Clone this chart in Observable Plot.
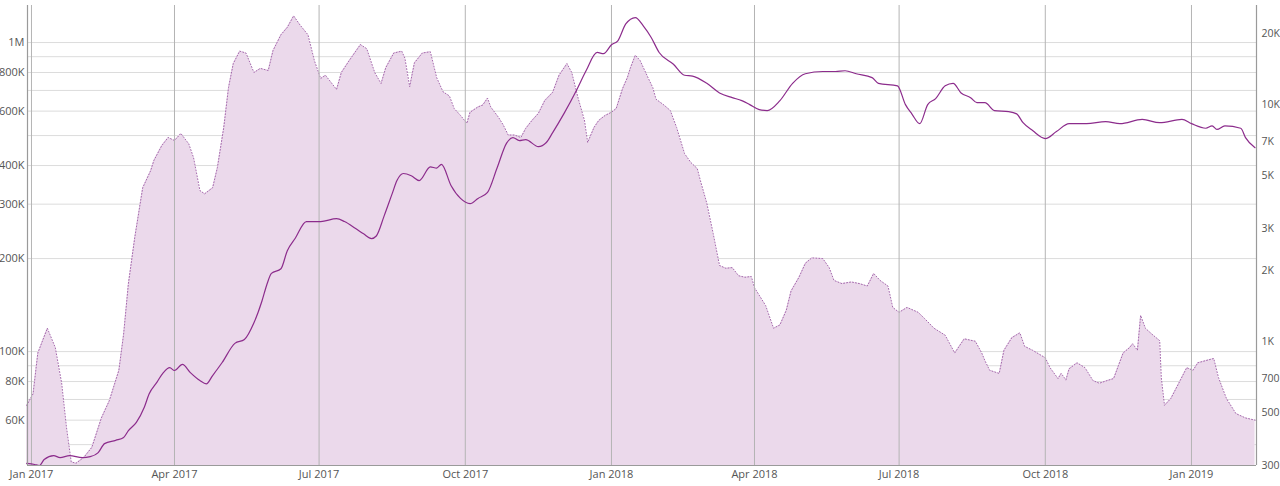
<!DOCTYPE html>
<html>
<head>
<meta charset="utf-8">
<script src="https://cdn.jsdelivr.net/npm/d3@7"></script>
<script src="https://cdn.jsdelivr.net/npm/@observablehq/plot@0.6"></script>
<style>
  html, body { margin: 0; padding: 0; background: #fff; }
</style>
</head>
<body>
<div id="chart"></div>
<script>
// ---- Area series (left axis) ----
const areaDates = ["2016-12-29","2017-01-02","2017-01-05","2017-01-11","2017-01-16","2017-01-20","2017-01-23","2017-01-26","2017-01-29","2017-02-03","2017-02-08","2017-02-14","2017-02-19","2017-02-25","2017-02-28","2017-03-03","2017-03-07","2017-03-12","2017-03-17","2017-03-19","2017-03-24","2017-03-28","2017-04-01","2017-04-05","2017-04-10","2017-04-13","2017-04-17","2017-04-20","2017-04-25","2017-04-28","2017-05-02","2017-05-05","2017-05-08","2017-05-12","2017-05-16","2017-05-21","2017-05-25","2017-05-30","2017-06-02","2017-06-07","2017-06-11","2017-06-15","2017-06-19","2017-06-24","2017-06-28","2017-07-02","2017-07-05","2017-07-12","2017-07-15","2017-07-20","2017-07-27","2017-07-31","2017-08-05","2017-08-09","2017-08-12","2017-08-17","2017-08-22","2017-08-24","2017-08-27","2017-08-30","2017-09-04","2017-09-09","2017-09-13","2017-09-17","2017-09-21","2017-09-24","2017-09-28","2017-10-02","2017-10-04","2017-10-09","2017-10-12","2017-10-15","2017-10-17","2017-10-22","2017-10-25","2017-10-28","2017-11-01","2017-11-05","2017-11-08","2017-11-12","2017-11-16","2017-11-20","2017-11-25","2017-11-29","2017-12-04","2017-12-07","2017-12-11","2017-12-15","2017-12-17","2017-12-21","2017-12-24","2017-12-28","2018-01-01","2018-01-04","2018-01-08","2018-01-11","2018-01-13","2018-01-16","2018-01-19","2018-01-24","2018-01-27","2018-01-29","2018-02-03","2018-02-07","2018-02-11","2018-02-16","2018-02-20","2018-02-24","2018-02-26","2018-03-02","2018-03-06","2018-03-10","2018-03-14","2018-03-18","2018-03-22","2018-03-26","2018-03-30","2018-04-01","2018-04-08","2018-04-13","2018-04-17","2018-04-21","2018-04-24","2018-04-29","2018-05-03","2018-05-07","2018-05-14","2018-05-18","2018-05-21","2018-05-26","2018-06-01","2018-06-06","2018-06-11","2018-06-15","2018-06-19","2018-06-24","2018-06-27","2018-07-01","2018-07-06","2018-07-13","2018-07-17","2018-07-23","2018-07-30","2018-08-05","2018-08-11","2018-08-18","2018-08-22","2018-08-24","2018-08-27","2018-09-02","2018-09-05","2018-09-10","2018-09-15","2018-09-18","2018-09-23","2018-10-01","2018-10-04","2018-10-09","2018-10-11","2018-10-14","2018-10-16","2018-10-21","2018-10-26","2018-10-31","2018-11-04","2018-11-09","2018-11-13","2018-11-16","2018-11-19","2018-11-23","2018-11-25","2018-11-28","2018-11-30","2018-12-03","2018-12-07","2018-12-12","2018-12-13","2018-12-15","2018-12-19","2018-12-24","2018-12-29","2019-01-02","2019-01-05","2019-01-10","2019-01-15","2019-01-18","2019-01-23","2019-01-29","2019-02-04","2019-02-10"];
const areaValues = [67000,73000,99000,119000,103000,79000,57000,44000,43500,45500,49000,61000,69400,87000,114000,166000,234000,339000,385000,415000,464000,493000,482000,508000,470000,424000,332000,324000,339000,394000,531000,715000,855000,938000,925000,800000,825000,812000,942000,1060000,1120000,1220000,1140000,1060000,875000,765000,784000,705000,800000,875000,985000,955000,800000,737000,830000,925000,938000,890000,720000,860000,925000,934000,770000,693000,672000,612000,581000,548000,595000,619000,628000,661000,619000,572000,540000,502000,502000,493000,527000,560000,590000,649000,690000,784000,855000,800000,661000,560000,475000,531000,560000,581000,595000,612000,710000,770000,830000,910000,875000,770000,715000,656000,628000,603000,531000,437000,409000,391000,357000,302000,241000,190000,186000,187000,176000,174000,175000,161000,141000,119000,122000,136000,157000,174000,193000,201000,200000,187000,170000,166000,168000,166000,163000,179000,170000,163000,139000,134000,139000,134000,128000,119000,113000,99000,110000,108000,99000,93500,87000,85000,101000,111000,115000,104000,101000,95500,88700,81800,85000,81000,88000,92000,88700,80600,79000,80600,81800,90000,99000,103000,106000,101000,131000,119000,114000,108500,82400,67000,70500,79000,88700,87000,92000,93500,95000,82400,70500,63000,61000,60000];

// ---- Line series (right axis) ----
const lineDates = ["2016-12-29","2017-01-03","2017-01-06","2017-01-09","2017-01-15","2017-01-19","2017-01-25","2017-02-02","2017-02-07","2017-02-12","2017-02-16","2017-02-23","2017-02-28","2017-03-03","2017-03-08","2017-03-13","2017-03-16","2017-03-21","2017-03-25","2017-03-29","2017-04-01","2017-04-06","2017-04-11","2017-04-17","2017-04-21","2017-04-25","2017-05-01","2017-05-09","2017-05-15","2017-05-21","2017-05-26","2017-05-29","2017-06-01","2017-06-07","2017-06-11","2017-06-16","2017-06-23","2017-07-02","2017-07-12","2017-07-17","2017-07-24","2017-07-29","2017-08-03","2017-08-06","2017-08-11","2017-08-16","2017-08-19","2017-08-23","2017-08-28","2017-09-02","2017-09-09","2017-09-13","2017-09-16","2017-09-22","2017-09-28","2017-10-04","2017-10-09","2017-10-15","2017-10-21","2017-10-27","2017-10-31","2017-11-04","2017-11-08","2017-11-16","2017-11-21","2017-11-25","2017-12-02","2017-12-10","2017-12-16","2017-12-23","2017-12-27","2018-01-01","2018-01-05","2018-01-10","2018-01-16","2018-01-21","2018-01-26","2018-01-31","2018-02-09","2018-02-16","2018-02-21","2018-03-02","2018-03-10","2018-03-18","2018-03-24","2018-03-29","2018-04-04","2018-04-09","2018-04-17","2018-04-25","2018-05-03","2018-05-14","2018-05-22","2018-05-28","2018-06-04","2018-06-14","2018-06-18","2018-06-30","2018-07-05","2018-07-09","2018-07-14","2018-07-19","2018-07-24","2018-07-30","2018-08-04","2018-08-09","2018-08-15","2018-08-19","2018-08-24","2018-08-30","2018-09-08","2018-09-13","2018-09-17","2018-09-23","2018-10-01","2018-10-08","2018-10-16","2018-10-27","2018-11-08","2018-11-17","2018-12-01","2018-12-12","2018-12-26","2019-01-01","2019-01-10","2019-01-14","2019-01-17","2019-01-22","2019-02-01","2019-02-04","2019-02-10"];
const lineValues = [306,303,300,318,330,324,330,324,327,340,371,383,394,421,456,528,601,675,740,776,755,801,740,685,663,719,816,983,1020,1200,1480,1730,1940,2030,2420,2730,3210,3210,3300,3210,3000,2850,2720,2790,3400,4210,4780,5120,5010,4780,5460,5400,5600,4560,4020,3820,4020,4260,5400,6880,7260,7050,7120,6650,6920,7620,9140,11500,13900,16600,16400,17900,18600,21900,23300,21500,19200,16600,14800,13300,13200,12300,11200,10700,10400,10000,9530,9440,10400,12300,13500,13800,13800,13900,13500,13000,12300,12000,10000,9140,8310,10000,10600,12000,12300,11200,10700,10200,10200,9440,9350,9140,8390,7770,7190,7700,8310,8310,8480,8310,8660,8390,8660,8310,7950,8130,7860,8130,7950,7260,6580];

// ---- Axis ticks ----
const quarterTicks = ["2017-01-01","2017-04-01","2017-07-01","2017-10-01","2018-01-01","2018-04-01","2018-07-01","2018-10-01","2019-01-01"];
const leftTicks = [60000, 80000, 100000, 200000, 300000, 400000, 600000, 800000, 1000000];
const leftGrid = [50000, 60000, 70000, 80000, 90000, 100000, 200000, 300000, 400000, 500000, 600000, 700000, 800000, 900000, 1000000];
const rightTicks = [300, 500, 700, 1000, 2000, 3000, 5000, 7000, 10000, 20000];

// ---- Scale domains ----
const xDomain = [new Date("2016-12-29T12:00Z"), new Date("2019-02-10T22:00Z")];
const yMin = 42800, yMax = 1318000;   // left axis (log)
const rMin = 300, rMax = 26200;       // right axis (log)

// map right-axis value onto left-axis scale (both log)
const toLeft = r => Math.pow(10,
  Math.log10(yMin) + (Math.log10(r) - Math.log10(rMin)) / Math.log10(rMax / rMin) * Math.log10(yMax / yMin));

const fmtK = v => v >= 1e6 ? (v / 1e6) + "M" : v >= 1000 ? (v / 1000) + "K" : String(v);

const area = areaDates.map((d, i) => ({date: new Date(d), value: areaValues[i]}));
const line = lineDates.map((d, i) => ({date: new Date(d), value: lineValues[i]}));
const quarters = quarterTicks.map(d => new Date(d));

const chart = Plot.plot({
  width: 1280,
  height: 486,
  marginLeft: 27,
  marginRight: 24,
  marginTop: 5,
  marginBottom: 21,
  style: {fontFamily: "'Open Sans', sans-serif", fontSize: "11px", color: "#555", background: "#fff"},
  x: {type: "utc", domain: xDomain},
  y: {type: "log", domain: [yMin, yMax]},
  marks: [
    Plot.gridY(leftGrid, {stroke: "#dcdcdc", strokeOpacity: 1}),
    Plot.areaY(area, {x: "date", y1: yMin, y2: "value", fill: "#ebd9eb"}),
    Plot.lineY(area, {x: "date", y: "value", stroke: "#a468ac", strokeWidth: 1, strokeDasharray: "1,2"}),
    Plot.ruleX(quarters, {stroke: "#b4b4b4", strokeWidth: 1}),
    Plot.lineY(line, {x: "date", y: d => toLeft(d.value), stroke: "#8c2c8c", strokeWidth: 1.2, curve: "monotone-x"}),
    Plot.ruleX([xDomain[0], xDomain[1]], {stroke: "#9a9a9a", strokeWidth: 1.2}),
    Plot.ruleY([yMin], {stroke: "#9a9a9a", strokeWidth: 1.2}),
    Plot.axisX(quarters, {tickSize: 0, tickPadding: 5, tickFormat: d3.utcFormat("%b %Y"), label: null, fill: "#555"}),
    Plot.axisY(leftTicks, {tickSize: 0, tickPadding: 3, tickFormat: fmtK, label: null, fill: "#555"}),
    Plot.text(rightTicks, {y: d => toLeft(d), text: d => fmtK(d), frameAnchor: "right", textAnchor: "start", dx: 5, fill: "#555", fontSize: 10.5})
  ]
});

document.getElementById("chart").appendChild(chart);
</script>
</body>
</html>
